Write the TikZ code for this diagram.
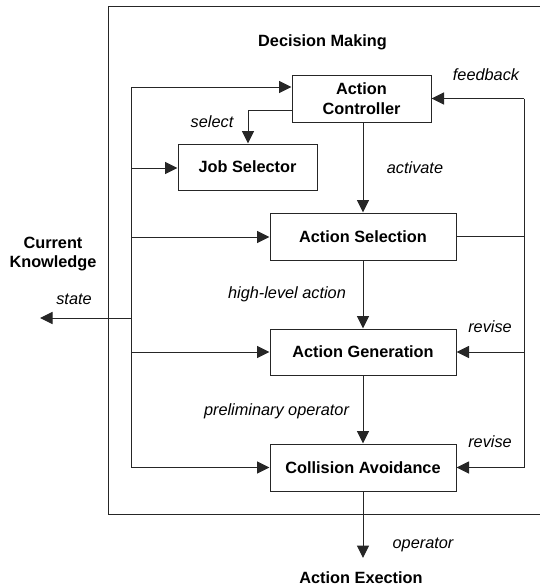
\documentclass[tikz,border=0pt]{standalone}
\usepackage{fontspec}
\setmainfont{Liberation Sans}
\usetikzlibrary{arrows.meta}
\begin{document}
\begin{tikzpicture}[x=1pt,y=-1pt,
  line/.style={line width=1pt, draw=black!85},
  arr/.style={line, -{Triangle[length=12.5pt,width=12pt]}},
  blk/.style={draw=black!85, line width=1pt, inner sep=0pt, align=center,
    font=\fontsize{16.3}{19.5}\selectfont\bfseries},
  lbl/.style={inner sep=0pt, font=\fontsize{16.3}{19.5}\selectfont\itshape},
  ttl/.style={inner sep=0pt, align=center, font=\fontsize{16.3}{19.5}\selectfont\bfseries}]
\useasboundingbox (0,0) rectangle (540,587);
% outer frame
\draw[line] (540,6) -- (108,6) -- (108,514) -- (540,514);
% blocks
\node[blk, minimum width=139pt, minimum height=47pt] (ac) at (361.5,98.5) {Action\\Controller};
\node[blk, minimum width=139pt, minimum height=46pt] (js) at (247.5,167) {Job Selector};
\node[blk, minimum width=186pt, minimum height=47pt] (as) at (363,236.5) {Action Selection};
\node[blk, minimum width=186pt, minimum height=46pt] (ag) at (363,352) {Action Generation};
\node[blk, minimum width=186pt, minimum height=47pt] (ca) at (363,467.5) {Collision Avoidance};
% titles
\node[ttl] (dm) at (322.5,42) {Decision Making};
\node[ttl] (ck) at (53,254) {Current\\Knowledge};
\node[ttl] (ae) at (361,578) {Action Exection};
% labels
\node[lbl] (lfb) at (486,75) {feedback};
\node[lbl] (lsel) at (212,122) {select};
\node[lbl] (lact) at (415,168) {activate};
\node[lbl] (lst) at (74,299) {state};
\node[lbl] (lhl) at (287,294) {high-level action};
\node[lbl] (lr1) at (490,327) {revise};
\node[lbl] (lpo) at (276.5,411) {preliminary operator};
\node[lbl] (lr2) at (490,442) {revise};
\node[lbl] (lop) at (423,545) {operator};
% bus coordinates
\coordinate (b1) at (131,87);
\coordinate (b2) at (131,168);
\coordinate (b3) at (131,237);
\coordinate (bs) at (131,318);
\coordinate (b4) at (131,352);
\coordinate (b5) at (131,467.5);
\coordinate (so) at (40,318);
\coordinate (f1) at (524,98.5);
\coordinate (f3) at (524,236.5);
\coordinate (f4) at (524,352);
\coordinate (f5) at (524,467.5);
\coordinate (sel) at (248,110);
\coordinate (out) at (363,558);
% bus
\draw[line] (b1) -- (b5);
\draw[arr] (b1) -- (b1 -| ac.west);
\draw[arr] (b2) -- (b2 -| js.west);
\draw[arr] (b3) -- (b3 -| as.west);
\draw[arr] (b4) -- (ag.west);
\draw[arr] (b5) -- (ca.west);
\draw[arr] (bs) -- (so);
% select
\draw[arr] (sel -| ac.west) -- (sel) -- (js.north -| sel);
% main chain
\draw[arr] (ac.south -| as.north) -- (as.north);
\draw[arr] (as.south) -- (ag.north);
\draw[arr] (ag.south) -- (ca.north);
\draw[arr] (ca.south) -- (out);
% feedback
\draw[line] (f1) -- (f5);
\draw[arr] (f1) -- (ac.east);
\draw[line] (as.east) -- (f3);
\draw[arr] (f4) -- (ag.east);
\draw[arr] (f5) -- (ca.east);
\end{tikzpicture}
\end{document}
